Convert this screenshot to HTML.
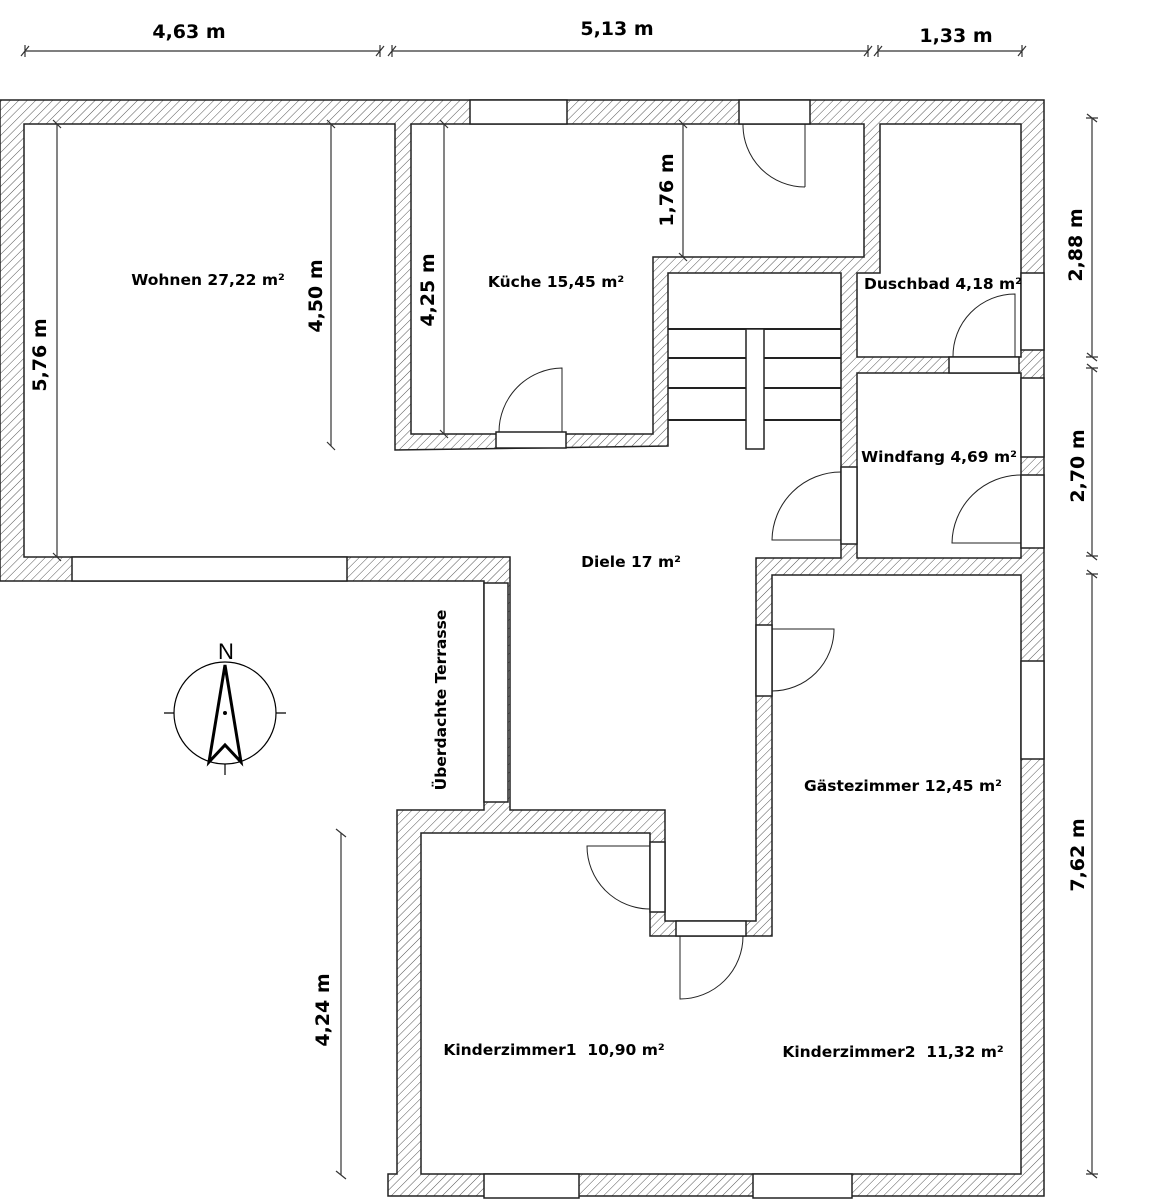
<!DOCTYPE html>
<html><head><meta charset="utf-8"><style>
html,body{margin:0;padding:0;background:#fff;}
svg{display:block;}
.t{font-family:"DejaVu Sans","Liberation Sans",sans-serif;font-weight:bold;fill:#000;}
</style></head><body>
<svg width="1151" height="1200" viewBox="0 0 1151 1200" xmlns="http://www.w3.org/2000/svg">
<defs>
<pattern id="h" patternUnits="userSpaceOnUse" width="6" height="6" patternTransform="rotate(45)">
<rect width="6" height="6" fill="#fff"/>
<line x1="0" y1="0" x2="0" y2="6" stroke="#555" stroke-width="1"/>
</pattern>
</defs>
<polygon points="0,100 1044,100 1044,1196 388,1196 388,1174 397,1174 397,810 484,810 484,581 0,581" fill="url(#h)" stroke="#222" stroke-width="1.5"/>
<g fill="#fff" stroke="#222" stroke-width="1.5">
<rect x="484" y="583" width="24" height="219"/>
<polygon points="24,124 395,124 395,450 668,446 668,273 841,273 841,558 756,558 756,921 665,921 665,810 510,810 510,557 24,557"/>
<polygon points="411,124 864,124 864,257 653,257 653,434 411,434"/>
<polygon points="880,124 1021,124 1021,357 857,357 857,273 880,273"/>
<rect x="857" y="373" width="164" height="185"/>
<polygon points="772,575 1021,575 1021,1174 421,1174 421,833 650,833 650,936 772,936 772,575"/>
<rect x="470" y="100" width="97" height="24"/>
<rect x="739" y="100" width="71" height="24"/>
<rect x="496" y="432" width="70" height="16"/>
<rect x="72" y="557" width="275" height="24"/>
<rect x="841" y="467" width="16" height="77"/>
<rect x="1021" y="475" width="23" height="73"/>
<rect x="1021" y="378" width="23" height="79"/>
<rect x="1021" y="273" width="23" height="77"/>
<rect x="949" y="357" width="70" height="16"/>
<rect x="756" y="625" width="16" height="71"/>
<rect x="1021" y="661" width="23" height="98"/>
<rect x="650" y="842" width="15" height="70"/>
<rect x="676" y="921" width="70" height="15"/>
<rect x="484" y="1174" width="95" height="24"/>
<rect x="753" y="1174" width="99" height="24"/>
</g>
<g stroke="#222" stroke-width="2" fill="none">
<line x1="668" y1="329" x2="841" y2="329"/>
<rect x="746" y="329" width="18" height="120" fill="#fff" stroke-width="1.5"/>
<line x1="668" y1="358" x2="746" y2="358"/><line x1="764" y1="358" x2="841" y2="358"/>
<line x1="668" y1="388" x2="746" y2="388"/><line x1="764" y1="388" x2="841" y2="388"/>
<line x1="668" y1="420" x2="746" y2="420"/><line x1="764" y1="420" x2="841" y2="420"/>
</g>
<g stroke="#222" stroke-width="1" fill="none">
<path d="M805,124 L805,187 M743,124 A62,62 0 0 0 805,187"/>
<path d="M562,432 L562,368 A64,64 0 0 0 499,432"/>
<path d="M841,540 L772,540 A69,69 0 0 1 841,472"/>
<path d="M1021,543 L952,543 A69,69 0 0 1 1021,475"/>
<path d="M1015,357 L1015,294 A62,62 0 0 0 953,357"/>
<path d="M772,629 L834,629 A62,62 0 0 1 772,691"/>
<path d="M650,846 L587,846 A63,63 0 0 0 650,909"/>
<path d="M680,936 L680,999 A63,63 0 0 0 743,936"/>
</g>
<g stroke="#333" stroke-width="1.2" fill="none">
<line x1="25" y1="51" x2="380" y2="51"/><line x1="392" y1="51" x2="868" y2="51"/><line x1="878" y1="51" x2="1022" y2="51"/>
<path d="M21,56 L29,46 M25,45 L25,57 M376,56 L384,46 M380,45 L380,57 M388,56 L396,46 M392,45 L392,57 M864,56 L872,46 M868,45 L868,57 M874,56 L882,46 M878,45 L878,57 M1018,56 L1026,46 M1022,45 L1022,57"/>
<line x1="1092" y1="118" x2="1092" y2="357"/><line x1="1092" y1="368" x2="1092" y2="556"/><line x1="1092" y1="574" x2="1092" y2="1174"/>
<path d="M1087,114 L1097,122 M1086,118 L1098,118 M1087,353 L1097,361 M1086,357 L1098,357 M1087,364 L1097,372 M1086,368 L1098,368 M1087,552 L1097,560 M1086,556 L1098,556 M1087,570 L1097,578 M1086,574 L1098,574 M1087,1170 L1097,1178 M1086,1174 L1098,1174"/>
<line x1="57" y1="124" x2="57" y2="557"/><path d="M53,120 L61,128 M53,553 L61,561"/>
<line x1="331" y1="124" x2="331" y2="446"/><path d="M327,120 L335,128 M327,442 L335,450"/>
<line x1="444" y1="124" x2="444" y2="434"/><path d="M440,120 L448,128 M440,430 L448,438"/>
<line x1="683" y1="124" x2="683" y2="257"/><path d="M679,120 L687,128 M679,253 L687,261"/>
<line x1="341" y1="833" x2="341" y2="1175"/><path d="M336,829 L346,837 M336,1171 L346,1179"/>
</g>
<g class="t" font-size="19" text-anchor="middle">
<text x="189" y="38">4,63 m</text>
<text x="617" y="35">5,13 m</text>
<text x="956" y="42">1,33 m</text>
<text transform="translate(1082,245) rotate(-90)">2,88 m</text>
<text transform="translate(1084,466) rotate(-90)">2,70 m</text>
<text transform="translate(1084,855) rotate(-90)">7,62 m</text>
<text transform="translate(46,355) rotate(-90)">5,76 m</text>
<text transform="translate(322,296) rotate(-90)">4,50 m</text>
<text transform="translate(434,290) rotate(-90)">4,25 m</text>
<text transform="translate(673,190) rotate(-90)">1,76 m</text>
<text transform="translate(329,1010) rotate(-90)">4,24 m</text>
</g>
<g class="t" font-size="15.5" text-anchor="middle">
<text x="208" y="285">Wohnen 27,22 m²</text>
<text x="556" y="287">Küche 15,45 m²</text>
<text x="943" y="289">Duschbad 4,18 m²</text>
<text x="939" y="462">Windfang 4,69 m²</text>
<text x="631" y="567">Diele 17 m²</text>
<text x="903" y="791">Gästezimmer 12,45 m²</text>
<text x="554" y="1055" xml:space="preserve">Kinderzimmer1  10,90 m²</text>
<text x="893" y="1057" xml:space="preserve">Kinderzimmer2  11,32 m²</text>
<text transform="translate(446,700) rotate(-90)">Überdachte Terrasse</text>
</g>
<g stroke="#000" fill="none">
<circle cx="225" cy="713" r="51" stroke-width="1.2"/>
<path d="M164,713 L174,713 M276,713 L286,713 M225,764 L225,775" stroke-width="1.2"/>
<polygon points="225,665 209,762 225,745 241,762" stroke-width="3" stroke-linejoin="miter"/>
<circle cx="225" cy="713" r="1.5" fill="#000"/>
</g>
<text x="226" y="659" font-size="22" text-anchor="middle" font-family="Liberation Sans, sans-serif">N</text>
</svg>
</body></html>
